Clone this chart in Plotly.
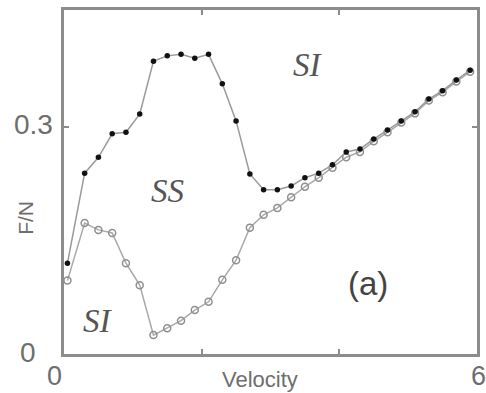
import plotly.graph_objects as go

# Sliding velocity samples
velocity = [0.05, 0.3, 0.5, 0.7, 0.9, 1.1, 1.3, 1.5, 1.7, 1.9, 2.1, 2.3, 2.5, 2.7, 2.9,
            3.1, 3.3, 3.5, 3.7, 3.9, 4.1, 4.3, 4.5, 4.7, 4.9, 5.1, 5.3, 5.5, 5.7, 5.9]

# Upper branch of F/N (filled markers)
fn_upper = [0.120, 0.239, 0.260, 0.291, 0.293, 0.317, 0.387, 0.394, 0.396, 0.391, 0.396,
            0.357, 0.308, 0.238, 0.217, 0.217, 0.222, 0.233, 0.239, 0.250, 0.267, 0.271,
            0.284, 0.296, 0.308, 0.320, 0.337, 0.348, 0.362, 0.375]

# Lower branch of F/N (open markers)
fn_lower = [0.097, 0.173, 0.164, 0.160, 0.120, 0.091, 0.025, 0.034, 0.044, 0.058, 0.069,
            0.098, 0.124, 0.167, 0.184, 0.193, 0.207, 0.221, 0.233, 0.246, 0.260, 0.267,
            0.281, 0.293, 0.306, 0.318, 0.335, 0.346, 0.360, 0.373]

x_ticks = [0, 2, 4, 6]
y_ticks = [0, 0.3]
x_labels = {0: "0", 6: "6"}
y_labels = {0: "0", 0.3: "0.3"}

LINE = "#9a9a9a"
AXIS = "#8c8c8c"
TEXT = "#6e6e6e"
SANS = "Arial, Liberation Sans"

fig = go.Figure()
fig.add_trace(go.Scatter(
    x=velocity, y=fn_lower, mode="lines+markers",
    line=dict(color="#a8a8a8", width=1.5),
    marker=dict(symbol="circle-open", size=7, color="#8f8f8f", line=dict(width=1.5)),
    showlegend=False))
fig.add_trace(go.Scatter(
    x=velocity, y=fn_upper, mode="lines+markers",
    line=dict(color=LINE, width=1.5),
    marker=dict(symbol="circle", size=5.5, color="#111111"),
    showlegend=False))

ann = []
for v, t in x_labels.items():
    ann.append(dict(x=v, y=0, xref="x", yref="y", text=t, showarrow=False,
                    xshift=-10 if v == 0 else 1, yshift=-22,
                    font=dict(size=27, color=TEXT, family=SANS)))
for v, t in y_labels.items():
    ann.append(dict(x=0, y=v, xref="x", yref="y", text=t, showarrow=False,
                    xanchor="right", xshift=-26 if v == 0 else -9, yshift=2,
                    font=dict(size=28, color=TEXT, family=SANS)))
ann.append(dict(x=3, y=0, xref="x", yref="y", text="Velocity", showarrow=False,
                yshift=-25, xshift=-11,
                font=dict(size=22, color=TEXT, family=SANS)))
ann.append(dict(x=0, y=0.18, xref="x", yref="y", text="F/N", showarrow=False,
                textangle=-90, xshift=-38,
                font=dict(size=21, color=TEXT, family=SANS)))
serif = dict(color="#555555", family="Liberation Serif, Times New Roman, serif", size=33)
ann.append(dict(x=3.55, y=0.382, xref="x", yref="y", text="<i>SI</i>", showarrow=False, font=serif))
ann.append(dict(x=1.5, y=0.215, xref="x", yref="y", text="<i>SS</i>", showarrow=False, font=serif))
ann.append(dict(x=0.5, y=0.043, xref="x", yref="y", text="<i>SI</i>", showarrow=False, font=serif))
ann.append(dict(x=4.42, y=0.093, xref="x", yref="y", text="(a)", showarrow=False,
                font=dict(size=33, color="#444444", family=SANS)))

axis_common = dict(showline=True, linecolor=AXIS, linewidth=3, mirror="ticks",
                   ticks="inside", ticklen=5, tickwidth=1.5, tickcolor=AXIS,
                   showgrid=False, zeroline=False, showticklabels=False)

fig.update_layout(
    width=486, height=393,
    margin=dict(l=64, r=6, t=10, b=39),
    paper_bgcolor="white", plot_bgcolor="white",
    xaxis=dict(range=[0, 6], tickvals=x_ticks, **axis_common),
    yaxis=dict(range=[0, 0.4546], tickvals=y_ticks, **axis_common),
    annotations=ann,
)

fig.write_html("out.html")
